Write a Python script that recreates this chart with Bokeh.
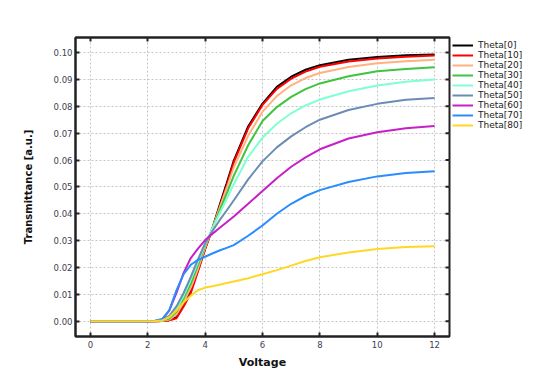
import math
from bokeh.plotting import figure
from bokeh.models import Range1d, LinearAxis, FixedTicker, Legend, LegendItem, CustomJSTickFormatter
from bokeh.embed import file_html
from bokeh.resources import INLINE

voltage = [0, 1, 2, 2.25, 2.5, 2.75, 3, 3.25, 3.5, 3.75, 4, 4.25, 4.5, 4.75, 5, 5.5, 6, 6.5, 7, 7.5, 8, 9, 10, 11, 12]

theta_0 = [0, 0, 0, 0.0, 0.0001, 0.0004, 0.0015, 0.0062, 0.0115, 0.019, 0.027, 0.0345, 0.043, 0.0513, 0.0598, 0.0725, 0.081, 0.0872, 0.0910, 0.0936, 0.0953, 0.0973, 0.0983, 0.0990, 0.0993]
theta_10 = [0, 0, 0, 0.0, 0.0001, 0.0003, 0.0011, 0.0055, 0.0105, 0.0185, 0.0268, 0.0343, 0.0425, 0.0505, 0.0592, 0.0718, 0.0805, 0.0865, 0.0903, 0.0929, 0.0947, 0.0967, 0.0978, 0.0984, 0.0989]
theta_20 = [0, 0, 0, 0.0, 0.0001, 0.0006, 0.0025, 0.007, 0.0125, 0.0195, 0.0275, 0.0345, 0.042, 0.0495, 0.0573, 0.069, 0.078, 0.0838, 0.0878, 0.0905, 0.0924, 0.0946, 0.0960, 0.0968, 0.0973]
theta_30 = [0, 0, 0, 0.0001, 0.0002, 0.001, 0.0035, 0.0085, 0.014, 0.021, 0.028, 0.0345, 0.041, 0.0475, 0.0542, 0.0655, 0.0745, 0.0797, 0.0835, 0.0864, 0.0885, 0.0912, 0.0930, 0.0939, 0.0945]
theta_40 = [0, 0, 0, 0.0001, 0.0003, 0.0015, 0.0045, 0.0095, 0.0155, 0.022, 0.0285, 0.0345, 0.040, 0.0455, 0.0510, 0.0612, 0.0683, 0.0735, 0.0774, 0.0803, 0.0825, 0.0856, 0.0877, 0.0891, 0.0900]
theta_50 = [0, 0, 0, 0.0001, 0.0004, 0.002, 0.0055, 0.0105, 0.0165, 0.023, 0.029, 0.0335, 0.0375, 0.0412, 0.045, 0.0528, 0.0595, 0.0647, 0.0688, 0.0722, 0.0750, 0.0786, 0.0809, 0.0824, 0.0831]
theta_60 = [0, 0, 0, 0.0001, 0.0005, 0.004, 0.0105, 0.018, 0.0235, 0.027, 0.0302, 0.0325, 0.0347, 0.0368, 0.039, 0.0437, 0.0485, 0.0532, 0.0575, 0.0610, 0.0640, 0.0680, 0.0703, 0.0718, 0.0727]
theta_70 = [0, 0, 0, 0.0002, 0.0008, 0.004, 0.0115, 0.0175, 0.021, 0.0228, 0.024, 0.0252, 0.0263, 0.0273, 0.0283, 0.0318, 0.0356, 0.0400, 0.0437, 0.0466, 0.0488, 0.0518, 0.0539, 0.0552, 0.0558]
theta_80 = [0, 0, 0, 0.0001, 0.0003, 0.0015, 0.004, 0.007, 0.0095, 0.0115, 0.0125, 0.013, 0.0136, 0.0142, 0.0148, 0.016, 0.0175, 0.019, 0.0207, 0.0224, 0.0238, 0.0256, 0.0269, 0.0276, 0.0279]

series_names = ["Theta[0]", "Theta[10]", "Theta[20]", "Theta[30]", "Theta[40]", "Theta[50]", "Theta[60]", "Theta[70]", "Theta[80]"]
series_values = [theta_0, theta_10, theta_20, theta_30, theta_40, theta_50, theta_60, theta_70, theta_80]
series_colors = ["#000000", "#ff0000", "#ffb27f", "#3ec43e", "#80ffd0", "#6b8cb4", "#c620c6", "#2a8cff", "#ffd726"]

x_ticks = [0, 2, 4, 6, 8, 10, 12]
y_ticks = [0.0, 0.01, 0.02, 0.03, 0.04, 0.05, 0.06, 0.07, 0.08, 0.09, 0.10]

X_START, X_END = -0.52, 12.52
FRAME_W, FRAME_H = 374, 299

p = figure(frame_width=FRAME_W, frame_height=FRAME_H, output_backend="svg", toolbar_location=None,
           x_range=Range1d(X_START, X_END), y_range=Range1d(-0.0057, 0.1056),
           min_border_left=75, min_border_top=37, min_border_bottom=40, min_border_right=0)

p.background_fill_color = "white"
p.border_fill_color = "white"
p.outline_line_color = "#222222"
p.outline_line_width = 2

items = []
for name, vals, col in zip(series_names, series_values, series_colors):
    r = p.line(voltage, vals, line_color=col, line_width=2)
    items.append(LegendItem(label=name, renderers=[r]))

# inward tick marks on the right edge (mirror of the left axis)
p.ray(x=[X_END] * len(y_ticks), y=y_ticks, length=4, length_units="screen",
      angle=math.pi, line_color="#222222", line_width=2)

FONT = "DejaVu Sans"

def style_axis(ax, labels=True):
    ax.axis_line_color = "#222222"
    ax.axis_line_width = 2
    ax.major_tick_in = 4
    ax.major_tick_out = 0
    ax.major_tick_line_color = "#222222"
    ax.major_tick_line_width = 2
    ax.minor_tick_line_color = None
    ax.major_label_text_font = FONT
    ax.major_label_text_font_size = "8.5px"
    ax.major_label_text_color = "#404050"
    ax.axis_label_text_font = FONT
    ax.axis_label_text_font_size = "11px"
    ax.axis_label_text_font_style = "bold"
    ax.axis_label_text_color = "#111111"
    if not labels:
        ax.major_label_text_font_size = "0px"
        ax.major_label_text_color = None
        ax.major_label_standoff = 0

p.xaxis.ticker = FixedTicker(ticks=x_ticks)
p.yaxis.ticker = FixedTicker(ticks=y_ticks)
p.yaxis.formatter = CustomJSTickFormatter(code="return tick.toFixed(2);")
p.xaxis.axis_label = "Voltage"
p.yaxis.axis_label = "Transmittance [a.u.]"
style_axis(p.xaxis[0])
style_axis(p.yaxis[0])
p.yaxis.axis_label_text_font_size = "10px"
p.xaxis.major_label_standoff = 4
p.yaxis.major_label_standoff = 3
p.xaxis.axis_label_standoff = 5
p.yaxis.axis_label_standoff = 17

top_ax = LinearAxis(ticker=FixedTicker(ticks=x_ticks))
style_axis(top_ax, labels=False)
p.add_layout(top_ax, "above")

p.xgrid.ticker = FixedTicker(ticks=x_ticks)
p.ygrid.ticker = FixedTicker(ticks=y_ticks)
p.grid.grid_line_color = "#c4c4c4"
p.grid.grid_line_dash = "2 2"
p.grid.grid_line_width = 1

legend = Legend(items=items, location="top_left")
legend.border_line_color = None
legend.background_fill_alpha = 0
legend.label_text_font = FONT
legend.label_text_font_size = "9px"
legend.label_text_color = "#222222"
legend.glyph_width = 21
legend.glyph_height = 10
legend.label_height = 10
legend.label_standoff = 5
legend.spacing = 0
legend.padding = 0
legend.margin = 3
p.add_layout(legend, "right")

open("out.html", "w").write(file_html(p, INLINE))
